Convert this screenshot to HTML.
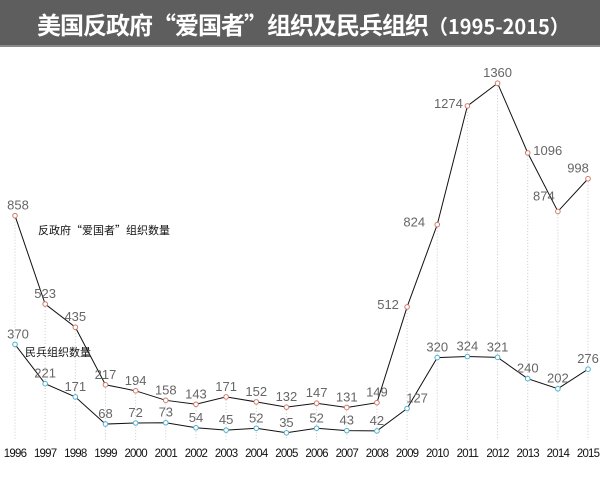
<!DOCTYPE html>
<html><head><meta charset="utf-8"><style>
body{margin:0;background:#fff;width:600px;height:479px;overflow:hidden;font-family:"Liberation Sans","Noto Sans CJK SC",sans-serif}
#t{position:absolute;left:0;top:0;width:600px;height:47px;background:#5e5e5e;border-bottom:2px solid #8a8a8a;color:#fff;font-weight:bold;font-size:24px;line-height:47px;padding-left:37px;box-sizing:border-box;letter-spacing:-1px;font-family:"Noto Sans CJK SC",sans-serif;white-space:nowrap}
#t span{font-weight:bold;font-size:20px;letter-spacing:0}
svg{position:absolute;left:0;top:0}
</style></head><body>
<div id="t">美国反政府“爱国者”组织及民兵组织<span>（1995-2015）</span></div>
<svg id="s" width="600" height="479" xmlns="http://www.w3.org/2000/svg"></svg>
<script>
var red=[858,523,435,217,194,158,143,171,152,132,147,131,149,512,824,1274,1360,1096,874,998];
var blue=[370,221,171,68,72,73,54,45,52,35,52,43,42,127,320,324,321,240,202,276];
function X(i){return 15+i*30.16}
function Y(v){return 442-v*0.2638}
var s='';
for(var i=0;i<20;i++){s+='<line x1="'+X(i)+'" y1="'+Y(red[i])+'" x2="'+X(i)+'" y2="440" stroke="#ccc" stroke-dasharray="1,2"/>';
s+='<text x="'+X(i)+'" y="457" font-size="11.5" text-anchor="middle" fill="#111" letter-spacing="-0.8">'+(1996+i)+'</text>';}
function line(d,c){var p='';for(var i=0;i<20;i++)p+=X(i)+','+Y(d[i])+' ';s+='<polyline points="'+p+'" fill="none" stroke="#111" stroke-width="1"/>';
for(var i=0;i<20;i++)s+='<circle cx="'+X(i)+'" cy="'+Y(d[i])+'" r="2.3" fill="#fff" stroke="'+c+'" stroke-width="1"/>';}
line(red,'#d07a6a');line(blue,'#4fb0cc');
var rOff={0:[3,-6],13:[-19,2],14:[-23,2],15:[-19,2],16:[0,-6],17:[20,2],18:[-14,-11],19:[-10,-6]};
for(var i=0;i<20;i++){var o=rOff[i]||[0,-6];s+='<text x="'+(X(i)+o[0])+'" y="'+(Y(red[i])+o[1])+'" font-size="13" text-anchor="middle" fill="#666">'+red[i]+'</text>';}
for(var i=0;i<20;i++){var o=[0,-6];if(i==0)o=[3,-6];if(i==13)o=[10,-6];s+='<text x="'+(X(i)+o[0])+'" y="'+(Y(blue[i])+o[1])+'" font-size="13" text-anchor="middle" fill="#666">'+blue[i]+'</text>';}
s+='<text x="38" y="234" font-size="11" fill="#111" font-family="Noto Sans CJK SC,sans-serif">反政府“爱国者”组织数量</text>';
s+='<text x="25" y="356" font-size="11" fill="#111" font-family="Noto Sans CJK SC,sans-serif">民兵组织数量</text>';
document.getElementById('s').innerHTML=s;
</script>
</body></html>
